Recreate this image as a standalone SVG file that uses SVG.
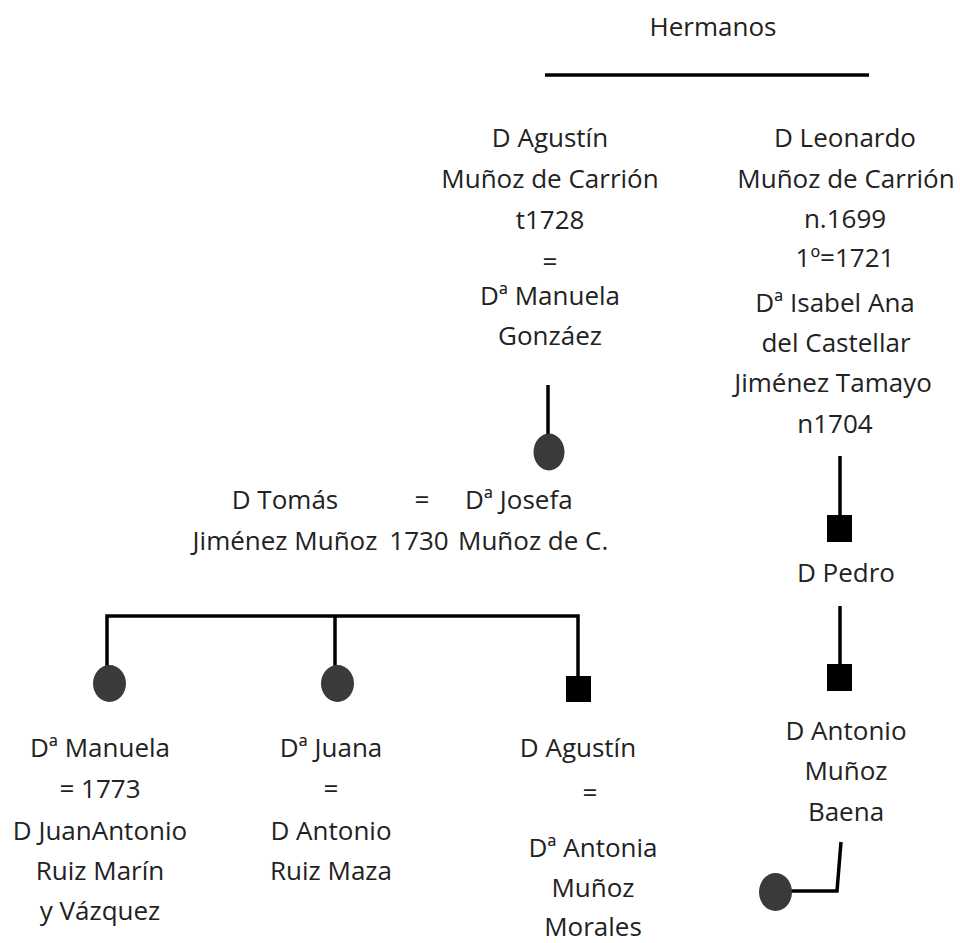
<svg xmlns="http://www.w3.org/2000/svg" width="960" height="943" viewBox="0 0 960 943">
<style>
text{font-family:"Open Sans","DejaVu Sans",sans-serif;font-size:26px;fill:#222;text-anchor:middle}
.l{text-anchor:start}
.ln{stroke:#000;stroke-width:3.5;fill:none;stroke-linecap:butt}
.f{fill:#3a3a3a}
.m{fill:#000}
</style>
<rect width="960" height="943" fill="#fff"/>
<g id="connectors">
<line class="ln" x1="545" y1="75" x2="869" y2="75"/>
<line class="ln" x1="548" y1="385" x2="548" y2="436"/>
<line class="ln" x1="840" y1="456" x2="840" y2="516"/>
<line class="ln" x1="840" y1="606" x2="840" y2="665"/>
<path class="ln" d="M107 670 V616 H578 V677"/>
<line class="ln" x1="335" y1="616" x2="335" y2="667"/>
<path class="ln" d="M841 842 L837 891 H790"/>
</g>
<g id="hermanos"><text x="713" y="36">Hermanos</text></g>
<g id="agustin">
<text x="550" y="147">D Agustín</text>
<text x="550" y="188">Muñoz de Carrión</text>
<text x="550" y="229">t1728</text>
<text x="550" y="271">=</text>
<text x="550" y="305">Dª Manuela</text>
<text x="550" y="345">Gonzáez</text>
</g>
<g id="leonardo">
<text x="845" y="147">D Leonardo</text>
<text x="846" y="188">Muñoz de Carrión</text>
<text x="845" y="228">n.1699</text>
<text x="845" y="267">1º=1721</text>
<text x="835" y="312">Dª Isabel Ana</text>
<text x="836" y="352">del Castellar</text>
<text x="833" y="392">Jiménez Tamayo</text>
<text x="835" y="433">n1704</text>
</g>
<g id="josefa">
<ellipse class="f" cx="549" cy="452" rx="15.5" ry="18.5"/>
</g>
<g id="matrimonio">
<text x="285" y="509">D Tomás</text>
<text x="422" y="509">=</text>
<text class="l" x="465" y="509">Dª Josefa</text>
<text x="285" y="550">Jiménez Muñoz</text>
<text x="419" y="550">1730</text>
<text class="l" x="458" y="550">Muñoz de C.</text>
</g>
<g id="pedro">
<rect class="m" x="827" y="515" width="25" height="27"/>
<text x="846" y="582">D Pedro</text>
</g>
<g id="antonio">
<rect class="m" x="827" y="664" width="25" height="27"/>
<text x="846" y="740">D Antonio</text>
<text x="846" y="780">Muñoz</text>
<text x="846" y="821">Baena</text>
</g>
<g id="hija-antonio">
<ellipse class="f" cx="775.5" cy="892" rx="16.5" ry="19"/>
</g>
<g id="manuela">
<ellipse class="f" cx="109.5" cy="683.5" rx="16.5" ry="18.5"/>
<text x="100" y="757">Dª Manuela</text>
<text x="100" y="798">= 1773</text>
<text x="100" y="840">D JuanAntonio</text>
<text x="100" y="880">Ruiz Marín</text>
<text x="100" y="920">y Vázquez</text>
</g>
<g id="juana">
<ellipse class="f" cx="337.5" cy="683.5" rx="16.5" ry="18.5"/>
<text x="331" y="757">Dª Juana</text>
<text x="331" y="798">=</text>
<text x="331" y="840">D Antonio</text>
<text x="331" y="880">Ruiz Maza</text>
</g>
<g id="agustin-hijo">
<rect class="m" x="566" y="676" width="25" height="26"/>
<text x="578" y="757">D Agustín</text>
<text x="590" y="802">=</text>
<text x="593" y="857">Dª Antonia</text>
<text x="593" y="897">Muñoz</text>
<text x="593" y="936">Morales</text>
</g>
</svg>
